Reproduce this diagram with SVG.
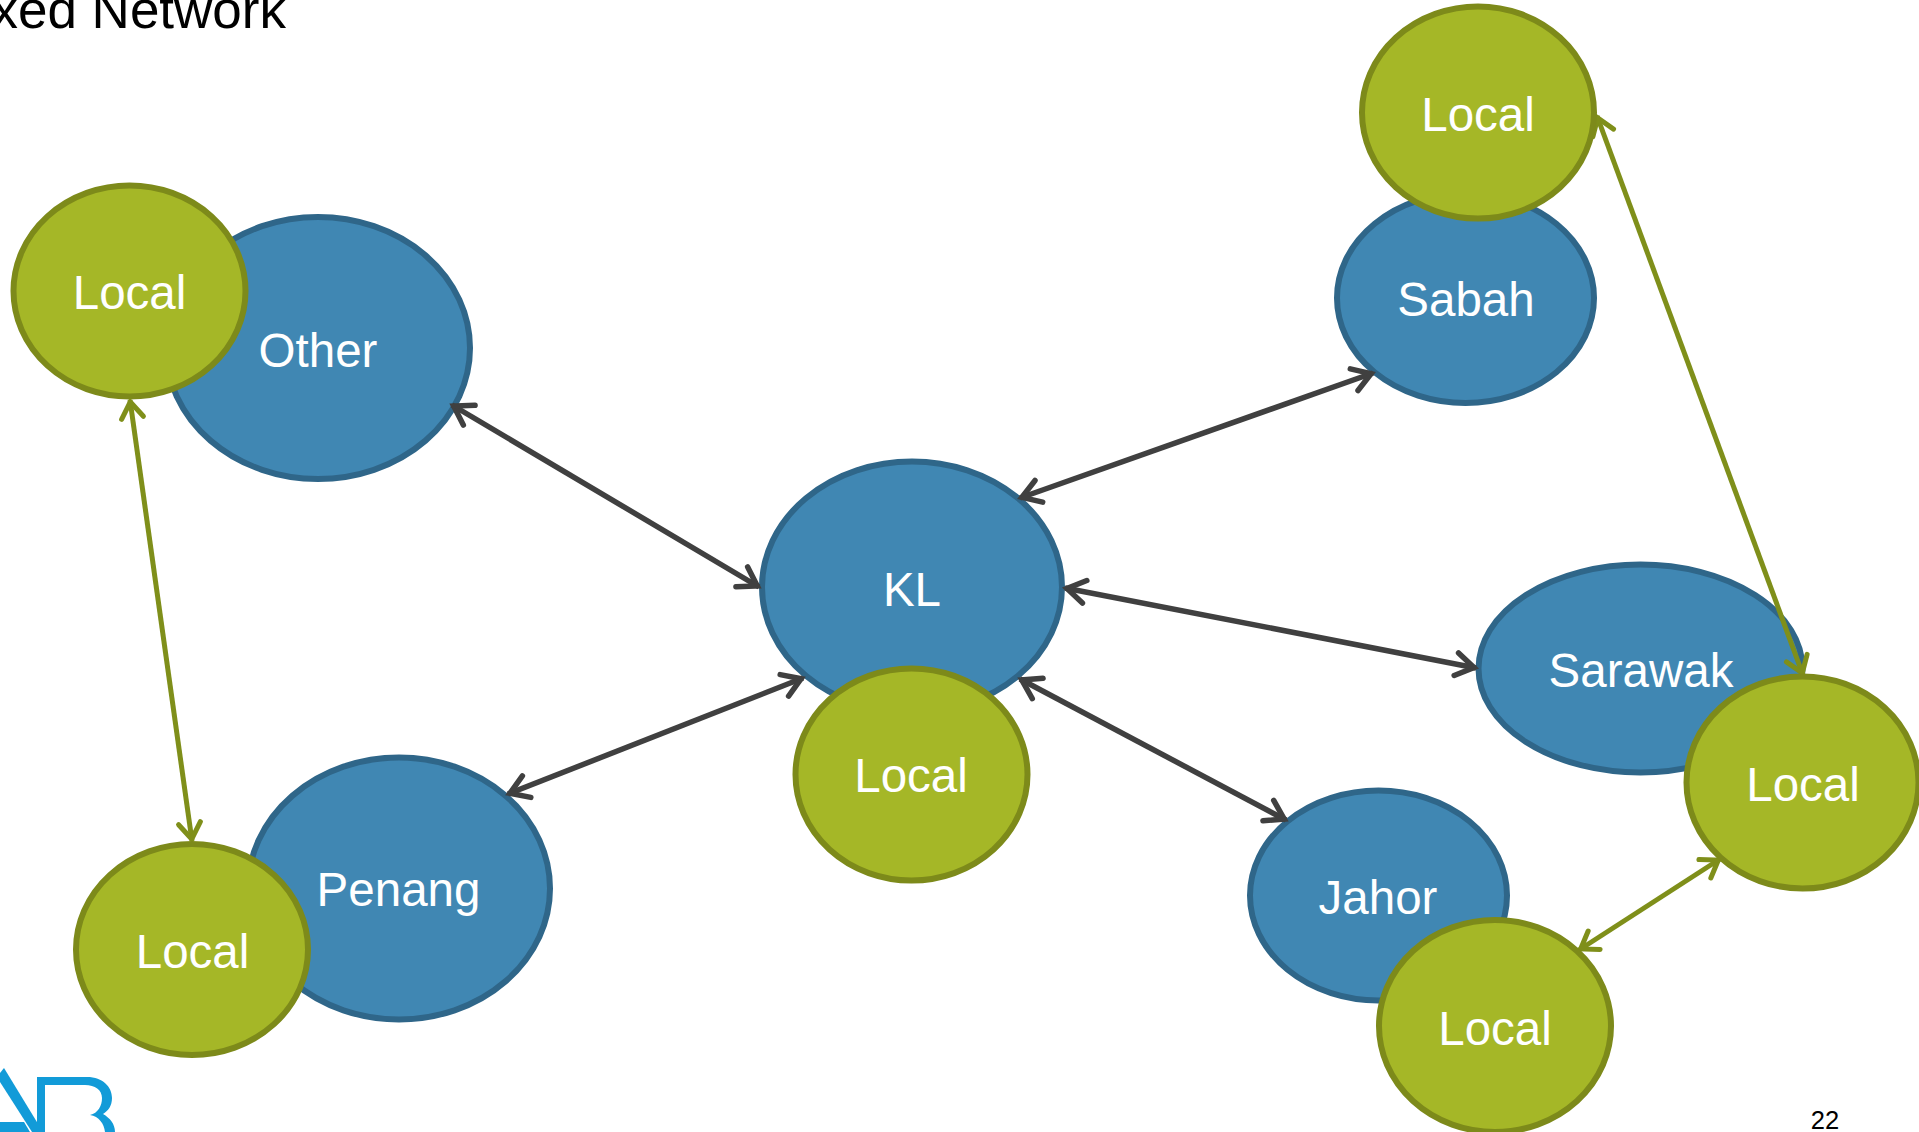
<svg xmlns="http://www.w3.org/2000/svg" width="1919" height="1132" viewBox="0 0 1919 1132">
<style>
text{font-family:"Liberation Sans",Arial,sans-serif}
.blue ellipse{fill:#4087B3;stroke:#2F6689;stroke-width:6}
.green ellipse{fill:#A5B727;stroke:#7D8A1A;stroke-width:6}
.lbl{font-size:47.500px;fill:#fff;text-anchor:middle}
.dk{stroke:#404040;stroke-width:5.500;fill:none;marker-start:url(#ad);marker-end:url(#ad)}
.gn{stroke:#7F8F1A;stroke-width:5;fill:none;marker-start:url(#ag);marker-end:url(#ag)}
.logo{fill:#129BD8}
</style>
<defs>
<marker id="ad" markerUnits="userSpaceOnUse" viewBox="-26 -16 32 32" refX="2" refY="0" markerWidth="32" markerHeight="32" orient="auto-start-reverse" overflow="visible"><path d="M-18,-11.500 L0,0 L-18,11.500" fill="none" stroke="#404040" stroke-width="5.500" stroke-linecap="round"/></marker>
<marker id="ag" markerUnits="userSpaceOnUse" viewBox="-26 -16 32 32" refX="2" refY="0" markerWidth="32" markerHeight="32" orient="auto-start-reverse" overflow="visible"><path d="M-16,-11 L0,0 L-16,11" fill="none" stroke="#7F8F1A" stroke-width="5" stroke-linecap="round"/></marker>
</defs>
<rect width="1919" height="1132" fill="#fff"/>
<text id="title" x="286" y="28" font-size="53" text-anchor="end" fill="#000">xed Network</text>
<g id="logo" class="logo">
<path d="M4,1068 L43,1132 L32,1132 L0,1082 L0,1073 Z"/>
<path d="M0,1122 L24,1122 L30,1132 L0,1132 Z"/>
<path d="M37,1077 L87,1077 C103,1077 112,1087 112,1098 C112,1106 108,1111 103,1114 C110,1118 115,1124 115,1132 L105,1132 C104,1124 99,1116 90,1115 C98,1113 102,1106 102,1098 C102,1090 95,1085 85,1085 L45,1085 L45,1132 L37,1132 Z"/>
</g>
<text id="page" x="1825" y="1129" font-size="25.500" text-anchor="middle" fill="#000">22</text>
<g class="blue">
<g id="other"><ellipse cx="318" cy="348" rx="152" ry="131"/><text class="lbl" x="318" y="367">Other</text></g>
<g id="kl"><ellipse cx="912" cy="587" rx="150" ry="125.500"/><text class="lbl" x="912" y="606">KL</text></g>
<g id="sabah"><ellipse cx="1465.500" cy="298" rx="128.500" ry="105"/><text class="lbl" x="1466" y="316">Sabah</text></g>
<g id="sarawak"><ellipse cx="1640.500" cy="668.500" rx="162" ry="104"/><text class="lbl" x="1641" y="687">Sarawak</text></g>
<g id="jahor"><ellipse cx="1378.500" cy="895.500" rx="128.500" ry="105"/><text class="lbl" x="1378" y="914">Jahor</text></g>
<g id="penang"><ellipse cx="399" cy="888.500" rx="151" ry="131"/><text class="lbl" x="398.500" y="906">Penang</text></g>
</g>
<g id="connectors">
<line class="dk" x1="452" y1="405" x2="759" y2="587"/>
<line class="dk" x1="1020" y1="498" x2="1373" y2="373"/>
<line class="dk" x1="1065" y1="588" x2="1476" y2="668"/>
<line class="dk" x1="1020" y1="679" x2="1286" y2="820"/>
<line class="dk" x1="803" y1="678" x2="508" y2="794"/>
<line class="gn" x1="130" y1="400" x2="192" y2="841"/>
<line class="gn" x1="1597" y1="116" x2="1803" y2="675"/>
<line class="gn" x1="1720" y1="859" x2="1579" y2="950"/>
</g>
<g class="green">
<g id="local-other"><ellipse cx="129.500" cy="291" rx="116" ry="105.500"/><text class="lbl" x="129.500" y="309">Local</text></g>
<g id="local-kl"><ellipse cx="911.500" cy="774.500" rx="116" ry="106"/><text class="lbl" x="911" y="792">Local</text></g>
<g id="local-sabah"><ellipse cx="1478" cy="112.500" rx="116" ry="106"/><text class="lbl" x="1478" y="131">Local</text></g>
<g id="local-sarawak"><ellipse cx="1802.500" cy="782.500" rx="116" ry="106"/><text class="lbl" x="1803" y="801">Local</text></g>
<g id="local-jahor"><ellipse cx="1495" cy="1026" rx="116" ry="106"/><text class="lbl" x="1495" y="1045">Local</text></g>
<g id="local-penang"><ellipse cx="192" cy="949.500" rx="116" ry="105.500"/><text class="lbl" x="192.500" y="968">Local</text></g>
</g>
</svg>
